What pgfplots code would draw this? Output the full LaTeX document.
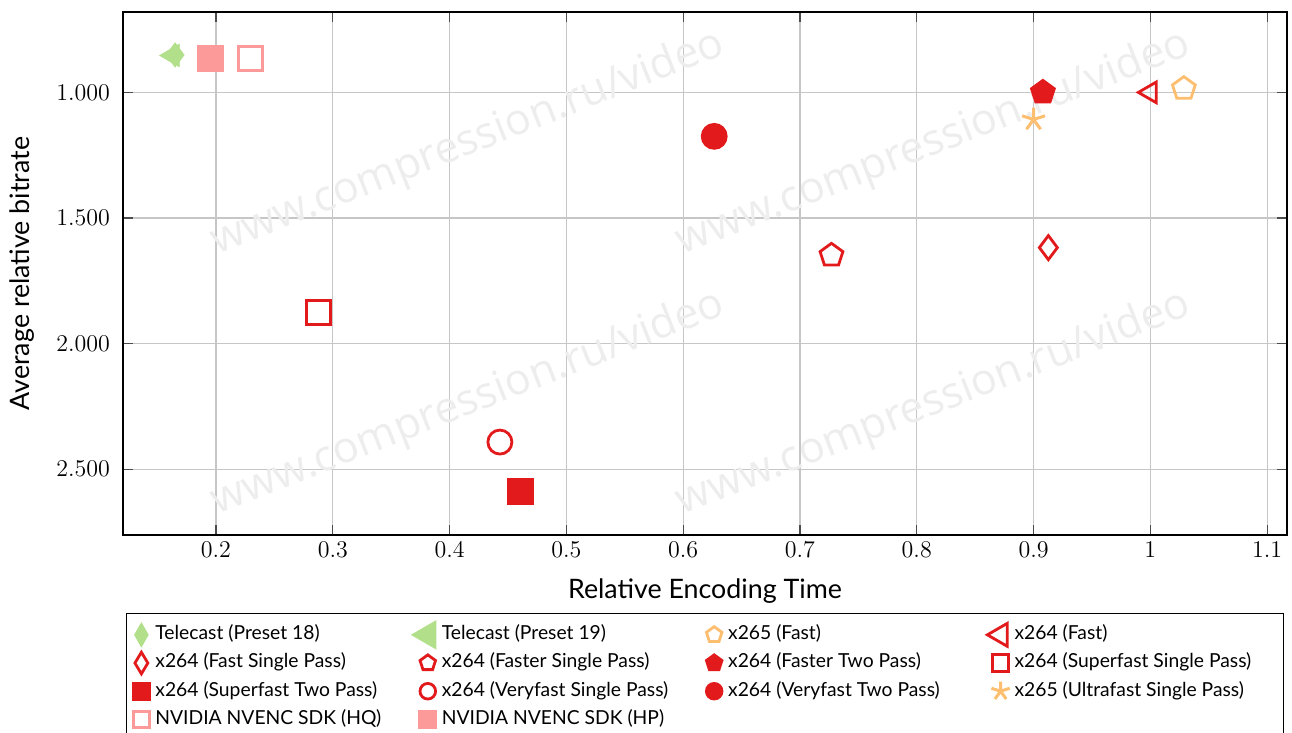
\documentclass[border=0pt]{standalone}
\usepackage{pgfplots}
\pgfplotsset{compat=1.18}
\usepackage{fontspec}
\setmainfont{Lato}
\newfontfamily\wmfont{Open Sans}
\definecolor{cred}{HTML}{E31A1C}
\definecolor{corange}{HTML}{FDBF6F}
\definecolor{cgreen}{HTML}{B2DF8A}
\definecolor{cpink}{HTML}{FB9A99}
\pgfplotsset{
  lm/.style={only marks, legend image code/.code={%
    \pgfinterruptboundingbox
    \draw[##1, every mark/.append style={#1}] plot coordinates {(0pt,0pt)};%
    \endpgfinterruptboundingbox
    \pgfpathrectangle{\pgfpoint{-6.5pt}{-3pt}}{\pgfpoint{11.5pt}{6pt}}\pgfusepath{use as bounding box}}},
}
\newcommand{\wm}[1]{\node[rotate=21.5, anchor=base, text=black!7, font=\wmfont\fontsize{21.5}{25}\selectfont] at (axis description cs:#1) {www.compression.ru/video};}
\begin{document}
\begin{tikzpicture}
\begin{axis}[
  name=ax,
  scale only axis,
  width=582pt, height=261.5pt,
  xmin=0.1204, xmax=1.117,
  ymin=0.68, ymax=2.762,
  y dir=reverse,
  xtick={0.2,0.3,0.4,0.5,0.6,0.7,0.8,0.9,1,1.1},
  ytick={1,1.5,2,2.5},
  yticklabel style={/pgf/number format/.cd, fixed, fixed zerofill, precision=3, /tikz/.cd, xshift=-3pt},
  tick label style={font=\fontsize{11.7}{14}\selectfont},
  grid=major,
  major grid style={line width=0.6pt, draw=gray!45},
  axis line style={line width=0.6pt},
  major tick length=5pt,
  tick style={line width=0.6pt, black!70},
  xlabel={Relative Encoding Time},
  ylabel={Average relative bitrate},
  every axis x label/.style={at={(axis description cs:0.5,0)}, yshift=-28pt, anchor=center, font=\fontsize{13.4}{16}\selectfont},
  every axis y label/.style={at={(axis description cs:0,0.5)}, xshift=-50.5pt, rotate=90, anchor=center, font=\fontsize{13.4}{16}\selectfont},
  legend columns=4,
  legend cell align=left,
  legend style={at={(0.5,-0.149)}, anchor=north, draw=black, line width=0.7pt,
    inner xsep=1pt, inner ysep=5pt, font=\fontsize{9.65}{11}\selectfont, row sep=2.9pt,
    nodes={inner xsep=2pt, inner ysep=1pt, text height=7pt, text depth=2.2pt},
    /tikz/every even column/.append style={column sep=9.7pt}},
]
\wm{0.3,0.7285}
\wm{0.7,0.7285}
\wm{0.3,0.231}
\wm{0.7,0.231}

\addplot[lm={xscale=0.72,yscale=0.95}, mark=diamond*, color=cgreen, mark size=6pt] coordinates {(0.165,0.851)};
\addlegendentry{\makebox[118pt][l]{Telecast (Preset 18)}}
\addplot[lm={scale=1.2}, mark=triangle*, mark options={rotate=90}, color=cgreen, mark size=6.5pt] coordinates {(0.163,0.853)};
\addlegendentry{\makebox[118pt][l]{Telecast (Preset 19)}}
\addplot[lm={scale=0.68}, mark=pentagon, color=corange, line width=1.4pt, mark size=6pt] coordinates {(1.0287,0.985)};
\addlegendentry{\makebox[118pt][l]{x265 (Fast)}}
\addplot[lm={scale=1.1}, mark=triangle, mark options={rotate=90}, color=cred, line width=1.4pt, mark size=6pt] coordinates {(1.0,1.0)};
\addlegendentry{\makebox[131.5pt][l]{x264 (Fast)}}

\addplot[lm={xscale=0.72,yscale=0.9}, mark=diamond, color=cred, line width=1.4pt, mark size=6pt] coordinates {(0.9127,1.618)};
\addlegendentry{\makebox[118pt][l]{x264 (Fast Single Pass)}}
\addplot[lm={scale=0.68}, mark=pentagon, color=cred, line width=1.4pt, mark size=6pt] coordinates {(0.727,1.6486)};
\addlegendentry{\makebox[118pt][l]{x264 (Faster Single Pass)}}
\addplot[lm={scale=0.68}, mark=pentagon*, color=cred, line width=1.4pt, mark size=6pt] coordinates {(0.908,1.0)};
\addlegendentry{\makebox[118pt][l]{x264 (Faster Two Pass)}}
\addplot[lm={scale=0.68}, mark=square, color=cred, line width=1.4pt, mark size=6pt] coordinates {(0.2877,1.875)};
\addlegendentry{\makebox[131.5pt][l]{x264 (Superfast Single Pass)}}

\addplot[lm={scale=0.68}, mark=square*, color=cred, line width=1.4pt, mark size=6pt] coordinates {(0.4606,2.590)};
\addlegendentry{\makebox[118pt][l]{x264 (Superfast Two Pass)}}
\addplot[lm={scale=0.65}, mark=o, color=cred, line width=1.4pt, mark size=6pt] coordinates {(0.4431,2.392)};
\addlegendentry{\makebox[118pt][l]{x264 (Veryfast Single Pass)}}
\addplot[lm={scale=0.65}, mark=*, color=cred, line width=1.4pt, mark size=6pt] coordinates {(0.6266,1.175)};
\addlegendentry{\makebox[118pt][l]{x264 (Veryfast Two Pass)}}
\addplot[lm={scale=0.8}, mark=star, color=corange, line width=1.5pt, mark size=6pt] coordinates {(0.900,1.108)};
\addlegendentry{\makebox[131.5pt][l]{x265 (Ultrafast Single Pass)}}

\addplot[lm={scale=0.68}, mark=square, color=cpink, line width=1.4pt, mark size=6pt] coordinates {(0.2298,0.8635)};
\addlegendentry{\makebox[118pt][l]{NVIDIA NVENC SDK (HQ)}}
\addplot[lm={scale=0.68}, mark=square*, color=cpink, line width=1.4pt, mark size=6pt] coordinates {(0.1954,0.8635)};
\addlegendentry{\makebox[118pt][l]{NVIDIA NVENC SDK (HP)}}
\end{axis}
\pgfresetboundingbox
\path[use as bounding box] ([xshift=-61.5pt,yshift=-99pt]ax.south west) rectangle ([xshift=584.5pt,yshift=267.5pt]ax.south west);
\end{tikzpicture}
\end{document}
